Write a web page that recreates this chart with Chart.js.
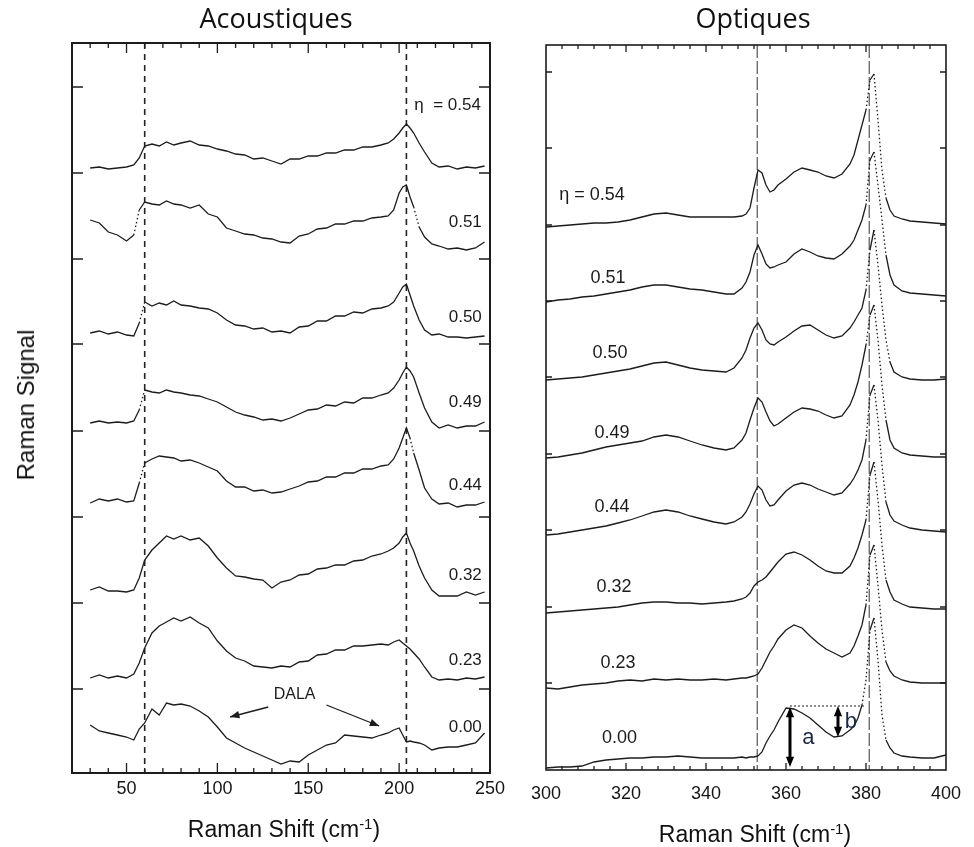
<!DOCTYPE html>
<html>
<head>
<meta charset="utf-8">
<title>Raman - acoustiques / optiques</title>
<script src="https://cdn.jsdelivr.net/npm/chart.js@4.4.1/dist/chart.umd.min.js"></script>
<style>
    body { margin: 0; background: #fff; }
    #page { position: relative; width: 974px; height: 847px; overflow: hidden; color: #111; font-family: 'Liberation Sans', Arial, sans-serif; }
    canvas { position: absolute; top: 0; }
    .txt { position: absolute; white-space: nowrap; line-height: 1; transform: translateX(-50%); }
    .panel { font-family: 'Open Sans', sans-serif; font-size: 27px; top: 4px; }
    .axis { font-size: 23px; }
    .axis sup { font-size: 15px; vertical-align: 8px; line-height: 0; }
    .ylab { font-size: 24px; left: 26px; top: 405px; transform: translate(-50%, -50%) rotate(-90deg); }
</style>
</head>
<body>
<div id="page">
    <canvas id="acoustic" width="518" height="847" style="left:0"></canvas>
    <canvas id="optic" width="456" height="847" style="left:518px"></canvas>
    <div class="txt panel" style="left:276px">Acoustiques</div>
    <div class="txt panel" style="left:753px">Optiques</div>
    <div class="txt axis" style="left:284px;top:818px">Raman Shift (cm<sup>-1</sup>)</div>
    <div class="txt axis" style="left:755px;top:823px">Raman Shift (cm<sup>-1</sup>)</div>
    <div class="txt ylab">Raman Signal</div>
</div>
<script>
/*global Chart, document*/
(function () {

    'use strict';

    // ------------------------------------------------------- //
    // Data (signal in arbitrary units)
    // ------------------------------------------------------ //
    var acShift = [30, 35, 40, 45, 50, 54, 57, 60, 64, 68, 72, 76, 80, 85, 90, 95, 100,
        105, 110, 115, 120, 125, 130, 135, 140, 145, 150, 155, 160, 165, 170, 175, 180, 185, 190,
        194, 197, 200, 202, 204, 206, 208, 211, 214, 218, 222, 227, 232, 237, 242, 247];

    var ac054 = [605, 606, 604, 605, 606, 608, 615, 627, 629, 627, 631, 628, 630, 632, 628, 627, 624,
        622, 619, 618, 614, 615, 612, 609, 614, 614, 617, 617, 620, 620, 623, 623, 626, 626, 628,
        630, 634, 640, 645, 649, 645, 640, 630, 621, 610, 606, 607, 604, 606, 605, 607];
    var ac051 = [553, 550, 541, 538, 532, 538, 563, 571, 569, 568, 572, 569, 568, 565, 568, 559, 556,
        545, 542, 539, 538, 535, 534, 531, 530, 537, 539, 544, 545, 549, 549, 552, 552, 555, 556,
        557, 563, 580, 586, 588, 576, 566, 546, 536, 529, 527, 524, 525, 523, 525, 531];
    var ac050 = [440, 442, 439, 441, 438, 437, 450, 471, 467, 470, 468, 472, 468, 467, 465, 464, 460,
        453, 448, 447, 444, 445, 441, 442, 440, 446, 447, 452, 452, 457, 457, 461, 460, 464, 465,
        467, 471, 480, 486, 489, 478, 467, 453, 443, 438, 439, 436, 436, 435, 436, 437];
    var ac049 = [350, 352, 350, 351, 350, 352, 363, 383, 381, 380, 383, 381, 380, 378, 377, 374, 371,
        366, 361, 358, 356, 353, 354, 352, 355, 359, 363, 364, 368, 367, 371, 370, 375, 375, 378,
        380, 385, 393, 400, 406, 402, 396, 380, 365, 351, 345, 348, 345, 347, 347, 351];
    var ac044 = [270, 274, 272, 274, 271, 272, 290, 310, 314, 317, 316, 315, 312, 313, 310, 306, 302,
        292, 286, 286, 282, 283, 280, 281, 284, 287, 291, 292, 296, 296, 300, 300, 304, 304, 307,
        308, 314, 325, 335, 345, 335, 320, 303, 285, 274, 269, 270, 266, 268, 268, 271];
    var ac032 = [183, 186, 182, 182, 181, 183, 195, 213, 223, 230, 237, 234, 237, 233, 235, 227, 215,
        205, 197, 196, 194, 193, 185, 191, 193, 198, 199, 204, 205, 208, 208, 212, 213, 217, 219,
        222, 225, 230, 236, 240, 230, 222, 207, 195, 183, 177, 177, 177, 181, 178, 181];
    var ac023 = [95, 98, 95, 97, 95, 99, 110, 125, 140, 147, 151, 155, 152, 156, 150, 145, 132,
        122, 115, 112, 107, 106, 105, 107, 106, 111, 112, 118, 119, 123, 123, 127, 127, 128, 129,
        128, 131, 133, 130, 127, 124, 120, 114, 106, 96, 93, 94, 93, 95, 94, 96];
    var ac000 = [48, 42, 40, 38, 36, 33, 44, 50, 64, 58, 70, 68, 69, 67, 62, 56, 46,
        35, 30, 25, 21, 17, 13, 9, 12, 11, 18, 23, 28, 30, 38, 37, 36, 35, 38,
        40, 43, 45, 38, 31, 32, 31, 30, 28, 23, 25, 26, 26, 28, 30, 40];

    var opShift = [300, 303, 306, 309, 312, 315, 318, 321, 324, 327, 330, 333, 336, 339, 342, 345,
        347, 349, 350, 351, 352, 353, 354, 355, 356, 357, 358,
        360, 362, 364, 366, 368, 370, 372, 374, 376,
        377, 378, 379, 380, 381, 382, 383, 384, 385, 386, 387, 389, 391, 394, 397, 400];

    var op054 = [543, 544, 545, 546, 547, 547, 548, 550, 553, 556, 557, 555, 553, 553, 553, 553,
        553, 554, 556, 562, 582, 600, 597, 585, 578, 580, 585,
        591, 598, 602, 600, 598, 594, 592, 596, 606,
        615, 630, 645, 660, 690, 696, 650, 600, 572, 560, 554, 551, 549, 548, 547, 546];
    var op051 = [468, 470, 471, 473, 474, 476, 478, 480, 483, 485, 485, 483, 481, 480, 478, 476,
        476, 482, 488, 498, 515, 525, 516, 506, 502, 503, 505,
        508, 516, 521, 518, 514, 512, 511, 516, 524,
        530, 540, 550, 565, 610, 618, 585, 550, 515, 495, 485, 479, 477, 476, 475, 474];
    var op050 = [390, 391, 392, 393, 395, 397, 399, 401, 404, 407, 408, 405, 402, 400, 399, 398,
        402, 412, 420, 432, 442, 447, 440, 430, 426, 425, 428,
        433, 439, 444, 445, 440, 435, 432, 434, 442,
        448, 455, 462, 480, 520, 540, 505, 465, 430, 408, 398, 393, 391, 390, 390, 391];
    var op049 = [312, 313, 315, 317, 320, 323, 325, 327, 329, 333, 335, 333, 329, 325, 322, 320,
        322, 330, 337, 350, 362, 372, 368, 358, 349, 344, 346,
        352, 358, 362, 361, 359, 355, 352, 354, 365,
        375, 388, 405, 425, 455, 465, 430, 385, 350, 330, 322, 317, 315, 314, 313, 313];
    var op044 = [235, 236, 238, 240, 242, 244, 247, 250, 254, 258, 260, 258, 254, 251, 248, 246,
        248, 253, 258, 266, 276, 284, 280, 270, 264, 265, 270,
        279, 285, 287, 285, 281, 278, 275, 277, 286,
        292, 300, 310, 330, 375, 385, 350, 305, 268, 255, 249, 245, 242, 240, 239, 238];
    var op032 = [157, 158, 159, 160, 161, 162, 163, 165, 167, 168, 168, 167, 167, 166, 167, 168,
        169, 171, 173, 177, 184, 188, 190, 193, 198, 203, 208,
        216, 218, 215, 210, 204, 199, 197, 197, 204,
        212, 222, 235, 250, 295, 308, 270, 225, 190, 178, 170, 166, 163, 162, 161, 161];
    var op023 = [82, 81, 83, 85, 86, 87, 89, 90, 89, 91, 90, 91, 90, 90, 91, 90,
        91, 92, 92, 93, 94, 96, 102, 110, 118, 124, 131,
        140, 145, 142, 134, 127, 121, 117, 113, 117,
        124, 134, 145, 165, 215, 225, 185, 140, 108, 99, 94, 90, 88, 87, 87, 87];
    var op000 = [2, 3, 3, 4, 8, 10, 11, 12, 12, 13, 13, 14, 13, 12, 12, 12,
        12, 13, 12, 13, 13, 14, 18, 27, 34, 40, 48,
        62, 61, 57, 52, 45, 38, 33, 34, 40,
        44, 52, 65, 90, 140, 152, 110, 55, 30, 22, 17, 14, 13, 12, 12, 15];

    var etaLabels = ['\u03b7  = 0.54', '0.51', '0.50', '0.49', '0.44', '0.32', '0.23', '0.00'];
    var etaLabelsOp = ['\u03b7 = 0.54', '0.51', '0.50', '0.49', '0.44', '0.32', '0.23', '0.00'];

    // mode positions (dashed guides) and y tick marks
    var acModes = [60, 204];
    var opModes = [352.8, 380.8];
    var acYTicks = [84, 170, 256, 342, 429, 514, 600, 686];
    var opYTicks = [87, 163, 240, 316, 393, 469, 545, 622, 698];

    // ------------------------------------------------------- //
    // Annotation placement
    // ------------------------------------------------------ //
    var acLabelAt = [[245, 668], [245.5, 551], [245.5, 456], [245.5, 371], [245.5, 288], [245.5, 198], [245.5, 113], [245.5, 46]];
    var opLabelAt = [[311.5, 575], [315.5, 492], [316, 417], [316.5, 337], [316.5, 263], [317, 183], [318, 107], [318.4, 32]];
    var acArrows = [[128, 66, 107, 56], [160, 68, 189, 47]];
    var opArrows = [[361, 63, 361, 3], [373, 64, 373, 33]];

    var ink = '#1c1c1c';
    var labelFamily = "'Liberation Sans', Arial, sans-serif";

    function steepDash(limit) {
        return function (c) {
            var dx = Math.abs(c.p1.x - c.p0.x);
            var dy = Math.abs(c.p1.y - c.p0.y);
            return dy > limit * dx ? [1.5, 2.5] : undefined;
        };
    }

    function traces(shift, series, limit) {
        return series.map(function (vals) {
            return {
                data: shift.map(function (s, i) { return { x: s, y: vals[i] }; }),
                borderColor: ink,
                borderWidth: 1.3,
                pointRadius: 0,
                tension: 0,
                fill: false,
                segment: { borderDash: steepDash(limit) }
            };
        });
    }

    function arrowHead(ctx, x0, y0, x1, y1, size) {
        var ang = Math.atan2(y1 - y0, x1 - x0);
        ctx.beginPath();
        ctx.moveTo(x1, y1);
        ctx.lineTo(x1 - size * Math.cos(ang - 0.38), y1 - size * Math.sin(ang - 0.38));
        ctx.lineTo(x1 - size * Math.cos(ang + 0.38), y1 - size * Math.sin(ang + 0.38));
        ctx.closePath();
        ctx.fill();
    }

    // frame, inward ticks, guides, labels
    function panelPlugin(cfg) {
        return {
            id: 'panel',
            beforeDatasetsDraw: function (chart) {
                var ctx = chart.ctx, a = chart.chartArea, xs = chart.scales.x;
                ctx.save();
                ctx.strokeStyle = cfg.modeColor;
                ctx.lineWidth = cfg.modeWidth;
                ctx.setLineDash(cfg.modeDash);
                cfg.modes.forEach(function (m) {
                    var px = xs.getPixelForValue(m);
                    ctx.beginPath();
                    ctx.moveTo(px, a.top);
                    ctx.lineTo(px, a.bottom);
                    ctx.stroke();
                });
                ctx.restore();
            },
            afterDatasetsDraw: function (chart) {
                var ctx = chart.ctx, a = chart.chartArea;
                var xs = chart.scales.x, ys = chart.scales.y;
                ctx.save();
                ctx.strokeStyle = ink;
                ctx.fillStyle = ink;

                // frame
                ctx.lineWidth = cfg.frameWidth;
                ctx.strokeRect(a.left, a.top, a.right - a.left, a.bottom - a.top);

                // x ticks, bottom and top
                ctx.lineWidth = 1.3;
                xs.ticks.forEach(function (t) {
                    if (t.value <= xs.min || t.value >= xs.max) { return; }
                    var px = xs.getPixelForValue(t.value);
                    var len = t.value % cfg.majorStep === 0 ? cfg.majorLen : cfg.minorLen;
                    ctx.beginPath();
                    ctx.moveTo(px, a.bottom);
                    ctx.lineTo(px, a.bottom - len);
                    ctx.moveTo(px, a.top);
                    ctx.lineTo(px, a.top + len);
                    ctx.stroke();
                });

                // y ticks, left and right
                cfg.yTicks.forEach(function (v) {
                    var py = ys.getPixelForValue(v);
                    ctx.beginPath();
                    ctx.moveTo(a.left, py);
                    ctx.lineTo(a.left + cfg.yTickLen, py);
                    ctx.moveTo(a.right, py);
                    ctx.lineTo(a.right - cfg.yTickLen, py);
                    ctx.stroke();
                });

                // eta labels
                ctx.font = cfg.labelSize + 'px ' + labelFamily;
                ctx.textAlign = cfg.labelAlign;
                ctx.textBaseline = 'middle';
                cfg.labels.forEach(function (txt, i) {
                    var p = cfg.labelAt[i];
                    ctx.fillText(txt, xs.getPixelForValue(p[0]), ys.getPixelForValue(p[1]));
                });

                if (cfg.extra) { cfg.extra(ctx, xs, ys); }
                ctx.restore();
            }
        };
    }

    function scaleX(min, max, step, labelStep, pad, height) {
        return {
            type: 'linear',
            min: min,
            max: max,
            afterFit: function (s) { s.height = height; },
            grid: { display: false, drawTicks: false },
            border: { display: false },
            ticks: {
                stepSize: step,
                autoSkip: false,
                maxRotation: 0,
                padding: pad,
                color: '#151515',
                font: { family: labelFamily, size: 18 },
                callback: function (v) { return v % labelStep === 0 ? String(v) : ''; }
            }
        };
    }

    // ------------------------------------------------------- //
    // Acoustiques
    // ------------------------------------------------------ //
    new Chart(document.getElementById('acoustic'), {
        type: 'line',
        data: { datasets: traces(acShift, [ac054, ac051, ac050, ac049, ac044, ac032, ac023, ac000], 3.5) },
        options: {
            responsive: false,
            animation: false,
            events: [],
            layout: { padding: { left: 72, top: 43, right: 28, bottom: 0 } },
            plugins: { legend: { display: false }, tooltip: { enabled: false } },
            scales: {
                x: scaleX(20, 250, 10, 50, 5, 74),
                y: { display: false, min: 0, max: 730 }
            }
        },
        plugins: [panelPlugin({
            modes: acModes,
            modeColor: '#222',
            modeWidth: 1.6,
            modeDash: [6, 5],
            frameWidth: 2,
            majorStep: 50,
            majorLen: 10,
            minorLen: 5,
            yTicks: acYTicks,
            yTickLen: 11,
            labels: etaLabels,
            labelAt: acLabelAt,
            labelAlign: 'right',
            labelSize: 17,
            extra: function (ctx, xs, ys) {
                ctx.font = '16px ' + labelFamily;
                ctx.textAlign = 'center';
                ctx.fillText('DALA', xs.getPixelForValue(142.5), ys.getPixelForValue(78));
                ctx.lineWidth = 1.3;
                acArrows.forEach(function (r) {
                    var x0 = xs.getPixelForValue(r[0]), y0 = ys.getPixelForValue(r[1]);
                    var x1 = xs.getPixelForValue(r[2]), y1 = ys.getPixelForValue(r[3]);
                    ctx.beginPath();
                    ctx.moveTo(x0, y0);
                    ctx.lineTo(x1, y1);
                    ctx.stroke();
                    arrowHead(ctx, x0, y0, x1, y1, 10);
                });
            }
        })]
    });

    // ------------------------------------------------------- //
    // Optiques
    // ------------------------------------------------------ //
    new Chart(document.getElementById('optic'), {
        type: 'line',
        data: { datasets: traces(opShift, [op054, op051, op050, op049, op044, op032, op023, op000], 5.5) },
        options: {
            responsive: false,
            animation: false,
            events: [],
            layout: { padding: { left: 27, top: 45, right: 22, bottom: 0 } },
            plugins: { legend: { display: false }, tooltip: { enabled: false } },
            scales: {
                x: scaleX(300, 400, 4, 20, 13, 77),
                y: { display: false, min: 0, max: 725 }
            }
        },
        plugins: [panelPlugin({
            modes: opModes,
            modeColor: '#333',
            modeWidth: 1,
            modeDash: [13, 3],
            frameWidth: 1.6,
            majorStep: 20,
            majorLen: 7,
            minorLen: 4,
            yTicks: opYTicks,
            yTickLen: 6,
            labels: etaLabelsOp,
            labelAt: opLabelAt,
            labelAlign: 'center',
            labelSize: 18,
            extra: function (ctx, xs, ys) {
                // dotted reference from the 360 maximum
                ctx.save();
                ctx.lineWidth = 1;
                ctx.setLineDash([2, 2]);
                ctx.beginPath();
                ctx.moveTo(xs.getPixelForValue(361), ys.getPixelForValue(64));
                ctx.lineTo(xs.getPixelForValue(380), ys.getPixelForValue(64));
                ctx.stroke();
                ctx.restore();
                ctx.fillStyle = '#000';
                ctx.strokeStyle = '#000';
                ctx.lineWidth = 3;
                opArrows.forEach(function (r) {
                    var x0 = xs.getPixelForValue(r[0]), y0 = ys.getPixelForValue(r[1]);
                    var x1 = xs.getPixelForValue(r[2]), y1 = ys.getPixelForValue(r[3]);
                    ctx.beginPath();
                    ctx.moveTo(x0, y0 + 6);
                    ctx.lineTo(x1, y1 - 6);
                    ctx.stroke();
                    arrowHead(ctx, x0, y0 + 12, x0, y0, 11);
                    arrowHead(ctx, x1, y1 - 12, x1, y1, 11);
                });
                ctx.font = '22px ' + labelFamily;
                ctx.fillStyle = '#1a2744';
                ctx.textAlign = 'center';
                ctx.fillText('a', xs.getPixelForValue(365.6), ys.getPixelForValue(32));
                ctx.fillText('b', xs.getPixelForValue(376.2), ys.getPixelForValue(48));
            }
        })]
    });

})();
</script>
</body>
</html>
